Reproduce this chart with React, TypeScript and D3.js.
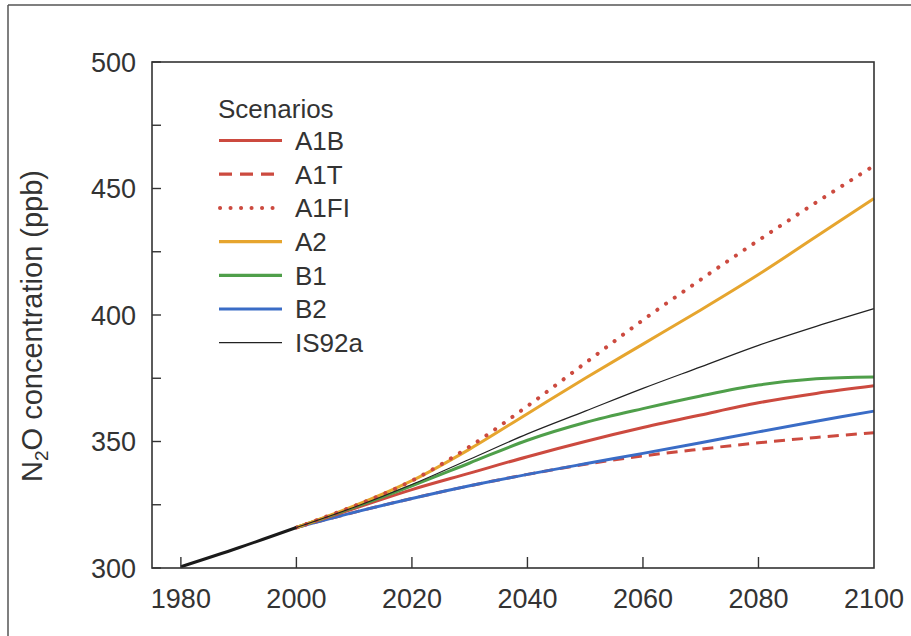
import React from "react";
import * as d3 from "d3";

// Observed record, 1980–2000
const histYears = [1980, 1990, 2000];
const histValues = [300.5, 308, 316];

// Scenario projections, 2000–2100 (ppb)
const years = [2000, 2010, 2020, 2030, 2040, 2050, 2060, 2070, 2080, 2090, 2100];
const a1b = [316, 323.5, 331, 337.5, 344, 350, 355.5, 360.5, 365.3, 369, 372];
const a1t = [316, 322, 327.5, 332.5, 337, 341, 344.3, 347, 349.5, 351.6, 353.5];
const a1fi = [316, 324.5, 334.5, 348, 364, 381, 398, 414, 429.5, 444.5, 459];
const a2 = [316, 324.5, 334.5, 347, 361, 375, 388.5, 402, 416, 431, 446];
const b1 = [316, 324, 332.5, 341.5, 350.5, 357.5, 363, 368, 372.3, 374.8, 375.5];
const b2 = [316, 322, 327.5, 332.5, 337, 341.2, 345.3, 349.5, 353.8, 358, 362];
const is92a = [316, 324, 333, 343, 353, 362, 371, 379.5, 388, 395.5, 402.5];

const xTicks = [1980, 2000, 2020, 2040, 2060, 2080, 2100];
const yTicks = [300, 350, 400, 450, 500];
const yMinorTicks = [325, 375, 425, 475];

const legendNames = ["A1B", "A1T", "A1FI", "A2", "B1", "B2", "IS92a"];

const RED = "#cc4a3f";
const GOLD = "#e6a52e";
const GREEN = "#4f9f4a";
const BLUE = "#3a6cc6";

type Style = { color: string; width: number; dash?: string; cap?: "round" | "butt" };
const styles: Record<string, Style> = {
  A1B: { color: RED, width: 3 },
  A1T: { color: RED, width: 3, dash: "11 7" },
  A1FI: { color: RED, width: 4, dash: "0.1 10.5", cap: "round" },
  A2: { color: GOLD, width: 3 },
  B1: { color: GREEN, width: 3 },
  B2: { color: BLUE, width: 3 },
  IS92a: { color: "#222", width: 1.2 },
};

const W = 911;
const H = 636;
const left = 152;
const right = 874;
const top = 62;
const bottom = 568;
const FONT = "'Liberation Sans', Arial, Helvetica, sans-serif";
const TEXT = "#333";

export default function App() {
  const x = d3.scaleLinear().domain([1975, 2100]).range([left, right]);
  const y = d3.scaleLinear().domain([300, 500]).range([bottom, top]);

  const line = d3
    .line<[number, number]>()
    .x((d) => x(d[0]))
    .y((d) => y(d[1]))
    .curve(d3.curveCatmullRom.alpha(0.5));

  const series: [string, number[]][] = [
    ["A1T", a1t],
    ["B2", b2],
    ["A1B", a1b],
    ["B1", b1],
    ["A2", a2],
    ["A1FI", a1fi],
    ["IS92a", is92a],
  ];

  const histPath = line(histYears.map((yr, i) => [yr, histValues[i]] as [number, number]));

  return (
    <svg
      width={W}
      height={H}
      style={{ position: "absolute", left: 0, top: 0, background: "#fff" }}
      fontFamily={FONT}
    >
      {/* page frame */}
      <line x1={8} y1={5} x2={W} y2={5} stroke="#555" strokeWidth={1.5} />
      <line x1={8} y1={5} x2={8} y2={H} stroke="#555" strokeWidth={1.5} />

      {/* scenario curves */}
      {series.map(([name, vals]) => {
        const s = styles[name];
        const d = line(years.map((yr, i) => [yr, vals[i]] as [number, number]));
        return (
          <path
            key={name}
            d={d ?? ""}
            fill="none"
            stroke={s.color}
            strokeWidth={s.width}
            strokeDasharray={s.dash}
            strokeLinecap={s.cap ?? "butt"}
          />
        );
      })}
      <path d={histPath ?? ""} fill="none" stroke="#1a1a1a" strokeWidth={3} />

      {/* plot frame */}
      <rect
        x={left}
        y={top}
        width={right - left}
        height={bottom - top}
        fill="none"
        stroke="#333"
        strokeWidth={1.6}
      />

      {/* y axis ticks and labels */}
      {[...yTicks, ...yMinorTicks].map((v) => (
        <line key={"yt" + v} x1={left} x2={left + 9} y1={y(v)} y2={y(v)} stroke="#333" strokeWidth={1.4} />
      ))}
      {yTicks.map((v) => (
        <text
          key={"yl" + v}
          x={136}
          y={y(v)}
          dy="0.36em"
          textAnchor="end"
          fontSize={27}
          fill={TEXT}
        >
          {v}
        </text>
      ))}

      {/* x axis ticks and labels */}
      {xTicks.map((v) => (
        <g key={"xt" + v}>
          {v < 2100 && (
            <line x1={x(v)} x2={x(v)} y1={bottom} y2={bottom - 11} stroke="#333" strokeWidth={1.4} />
          )}
          <text x={x(v)} y={608} textAnchor="middle" fontSize={27} fill={TEXT}>
            {v}
          </text>
        </g>
      ))}

      {/* y axis title */}
      <text
        transform="translate(42,326) rotate(-90)"
        textAnchor="middle"
        fontSize={29}
        fill={TEXT}
      >
        N<tspan fontSize={19} dy={6}>2</tspan>
        <tspan dy={-6}>O concentration (ppb)</tspan>
      </text>

      {/* legend */}
      <text x={218} y={118} fontSize={26} fill={TEXT}>
        Scenarios
      </text>
      {legendNames.map((name, i) => {
        const s = styles[name];
        const cy = 140.5 + i * 33.7;
        return (
          <g key={"lg" + name}>
            <line
              x1={name === "A1FI" ? 220 : 219}
              x2={282}
              y1={cy}
              y2={cy}
              stroke={s.color}
              strokeWidth={name === "IS92a" ? 1.3 : name === "A1FI" ? 4 : 3.2}
              strokeDasharray={name === "A1T" ? "13 8" : name === "A1FI" ? "0.1 10.4" : undefined}
              strokeLinecap={s.cap ?? "butt"}
            />
            <text x={295} y={cy} dy="0.36em" fontSize={26} fill={TEXT}>
              {name}
            </text>
          </g>
        );
      })}
    </svg>
  );
}
